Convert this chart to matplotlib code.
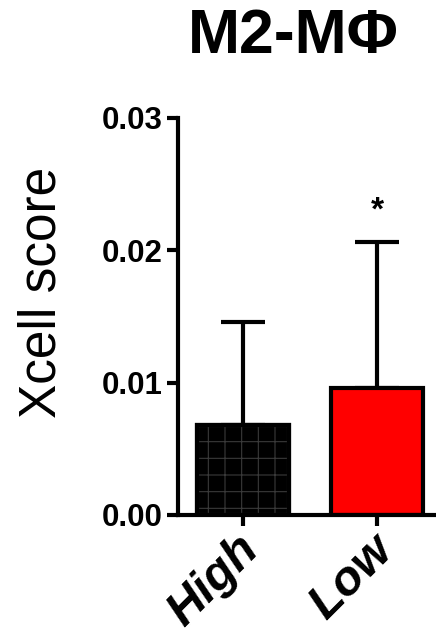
import matplotlib
matplotlib.use("Agg")
import matplotlib.pyplot as plt
import matplotlib.transforms as mtransforms
import numpy as np

plt.rcParams['font.family'] = ['Liberation Sans', 'DejaVu Sans']
plt.rcParams['hatch.linewidth'] = 0.8

categories = ["High", "Low"]
means = [0.0068, 0.0096]
errors = [0.0078, 0.0110]
colors = ["#000000", "#ff0000"]
yticks = [0.00, 0.01, 0.02, 0.03]
ytick_labels = ["0.00", "0.01", "0.02", "0.03"]
title = "M2-MΦ"
ylabel = "Xcell score"
signif = ["", "*"]

fig = plt.figure(figsize=(4.36, 6.34), dpi=100)
ax = fig.add_axes([0.408, 0.1877, 0.592, 0.6262])

x = np.arange(len(categories))
for i in range(len(categories)):
    ax.errorbar(x[i], means[i], yerr=[[0], [errors[i]]], fmt='none',
                ecolor='black', elinewidth=3, capsize=16, capthick=3, zorder=1)
bars = ax.bar(x, means, width=0.69, color=colors, edgecolor='black',
              linewidth=3, zorder=2)
bars[0].set_hatch('+')
bars[0].set_edgecolor('#3a3a3a')
ax.bar(x[0], means[0], width=0.69, fill=False, edgecolor='black', linewidth=3, zorder=3)

for i in range(len(categories)):
    if signif[i]:
        ax.text(x[i], means[i] + errors[i] + 0.0012, signif[i], ha='center',
                va='bottom', fontsize=24, fontweight='bold')

ax.set_xlim(-0.485, 1.44)
ax.set_ylim(0, 0.03)
ax.set_yticks(yticks)
ax.set_yticklabels(ytick_labels, fontsize=22.5, fontweight='bold')
ax.set_xticks(x)
ax.set_xticklabels([])
offset = mtransforms.ScaledTranslation(-0.07, -0.12, fig.dpi_scale_trans)
for i, cat in enumerate(categories):
    ax.text(x[i], 0, cat, transform=ax.get_xaxis_transform() + offset,
            fontsize=35, fontweight='bold', style='italic', rotation=45,
            ha='right', va='top', rotation_mode='anchor', clip_on=False)
ax.tick_params(axis='both', width=3, length=8, direction='out')
ax.tick_params(axis='y', pad=3)
for s in ['top', 'right']:
    ax.spines[s].set_visible(False)
for s in ['left', 'bottom']:
    ax.spines[s].set_linewidth(3)

fig.text(0.672, 0.942, title, ha='center', va='center', fontsize=45, fontweight='bold')
fig.text(0.097, 0.538, ylabel, ha='center', va='center', fontsize=37, rotation=90)

fig.savefig("out.png", dpi=100)
